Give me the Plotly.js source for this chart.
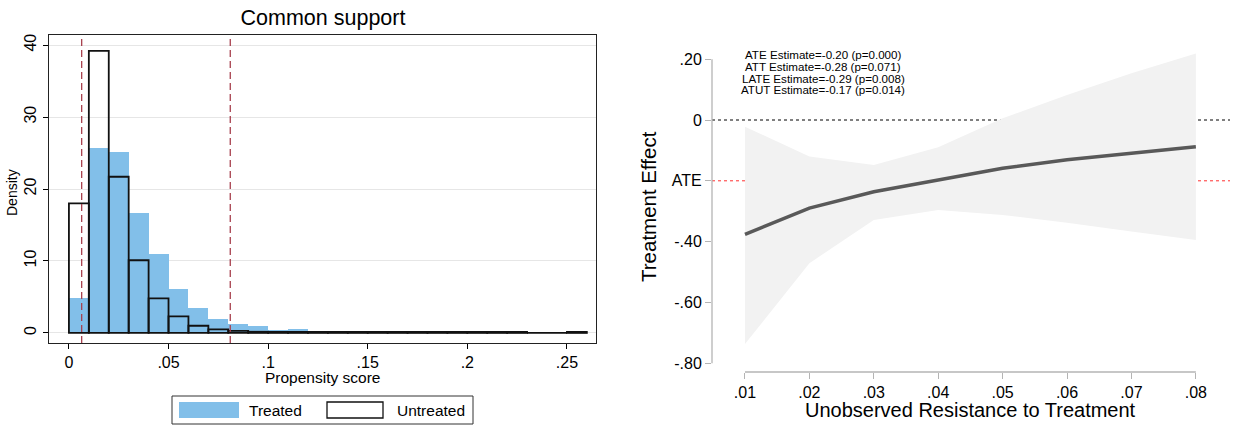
<!DOCTYPE html>
<html>
<head>
<meta charset="utf-8">
<script src="https://cdn.plot.ly/plotly-3.0.1.min.js"></script>
<style>html,body{margin:0;padding:0;background:#fff;}#chart{width:1233px;height:425px;}</style>
</head>
<body>
<div id="chart"></div>
<script>
// ---------- Left panel: propensity score histogram ----------
const binLeft = [0, 0.01, 0.02, 0.03, 0.04, 0.05, 0.06, 0.07, 0.08, 0.09, 0.10, 0.11, 0.12,
                 0.13, 0.14, 0.15, 0.16, 0.17, 0.18, 0.19, 0.20, 0.21, 0.22, 0.23, 0.24, 0.25];
const treatedDensity = [4.9, 25.7, 25.1, 16.7, 11.0, 6.1, 3.4, 2.0, 1.2, 0.95, 0.42, 0.6, 0.3,
                        0.3, 0.14, 0.12, 0.12, 0.12, 0.1, 0.1, 0.1, 0.1, 0.08, 0, 0.12, 0];
const untreatedDensity = [18.0, 39.2, 21.7, 10.1, 4.8, 2.3, 1.0, 0.5, 0.28, 0.16, 0.14, 0.14, 0.14,
                          0.14, 0.14, 0.14, 0.14, 0.14, 0.14, 0.14, 0.14, 0.14, 0.14, 0, 0, 0.14];
const binWidth = 0.01;
const supportBounds = [0.0064, 0.081];
const histXTicks = [0, 0.05, 0.1, 0.15, 0.2, 0.25];
const histXTickText = ['0', '.05', '.1', '.15', '.2', '.25'];
const histYTicks = [0, 10, 20, 30, 40];

// ---------- Right panel: MTE curve ----------
const resistance = [0.01, 0.02, 0.03, 0.04, 0.05, 0.06, 0.07, 0.08];
const effect     = [-0.376, -0.29, -0.236, -0.197, -0.159, -0.131, -0.11, -0.088];
const ciUpper    = [-0.022, -0.12, -0.148, -0.09, 0.006, 0.082, 0.154, 0.219];
const ciLower    = [-0.737, -0.471, -0.329, -0.296, -0.3125, -0.338, -0.367, -0.395];
const ateValue = -0.20;
const mteYTicks = [0.2, 0, -0.2, -0.4, -0.6, -0.8];
const mteYTickText = ['.20', '0', 'ATE', '-.40', '-.60', '-.80'];
const mteXTicks = [0.01, 0.02, 0.03, 0.04, 0.05, 0.06, 0.07, 0.08];
const mteXTickText = ['.01', '.02', '.03', '.04', '.05', '.06', '.07', '.08'];
const estimateLabels = [
  'ATE Estimate=-0.20 (p=0.000)',
  'ATT Estimate=-0.28 (p=0.071)',
  'LATE Estimate=-0.29 (p=0.008)',
  'ATUT Estimate=-0.17 (p=0.014)'
];

const W = 1233, H = 425;
const FONT = 'Liberation Sans, Arial, Helvetica, sans-serif';
const px = x => x / W;
const py = y => 1 - y / H;
const BLUE = '#82bfe9';

const traces = [
  {
    type: 'bar', x: binLeft, y: treatedDensity, width: binWidth, offset: 0,
    marker: {color: BLUE, line: {width: 0}}, xaxis: 'x', yaxis: 'y',
    name: 'Treated', showlegend: false, hoverinfo: 'skip'
  },
  {
    type: 'bar', x: binLeft, y: untreatedDensity, width: binWidth, offset: 0,
    marker: {color: 'rgba(0,0,0,0)', line: {color: '#111', width: 1.8}}, xaxis: 'x', yaxis: 'y',
    name: 'Untreated', showlegend: false, hoverinfo: 'skip'
  },
  {
    type: 'scatter', mode: 'lines', x: resistance, y: ciLower,
    line: {width: 0, color: '#f2f2f2'}, xaxis: 'x2', yaxis: 'y2', showlegend: false, hoverinfo: 'skip'
  },
  {
    type: 'scatter', mode: 'lines', x: resistance, y: ciUpper, fill: 'tonexty',
    fillcolor: '#f2f2f2', line: {width: 0, color: '#f2f2f2'},
    xaxis: 'x2', yaxis: 'y2', showlegend: false, hoverinfo: 'skip'
  },
  {
    type: 'scatter', mode: 'lines', x: resistance, y: effect,
    line: {color: '#595959', width: 3.5}, xaxis: 'x2', yaxis: 'y2', showlegend: false, hoverinfo: 'skip'
  }
];

const shapes = [];
supportBounds.forEach(v => shapes.push({
  type: 'line', xref: 'x', yref: 'y domain', x0: v, x1: v, y0: 0, y1: 1,
  line: {color: '#a8404e', width: 1.3, dash: '7px,4px'}, layer: 'above'
}));
// right panel reference lines (below the band)
shapes.push({type: 'line', xref: 'x2 domain', yref: 'y2', x0: 0, x1: 1, y0: 0, y1: 0,
  line: {color: '#000', width: 1, dash: '3px,3px'}, layer: 'below'});
shapes.push({type: 'line', xref: 'x2 domain', yref: 'y2', x0: 0, x1: 1, y0: ateValue, y1: ateValue,
  line: {color: '#ff3030', width: 1, dash: '3px,3px'}, layer: 'below'});
// right panel axis lines spanning the tick range only
shapes.push({type: 'line', xref: 'x2 domain', yref: 'y2', x0: 0, x1: 0,
  y0: mteYTicks[mteYTicks.length - 1], y1: mteYTicks[0], line: {color: '#b4b4b4', width: 1.3}});
shapes.push({type: 'line', xref: 'x2', yref: 'y2 domain', x0: mteXTicks[0], x1: mteXTicks[mteXTicks.length - 1],
  y0: 0, y1: 0, line: {color: '#b4b4b4', width: 1.3}});
// custom legend for the histogram
shapes.push({type: 'rect', xref: 'paper', yref: 'paper', x0: px(172), x1: px(473), y0: py(424), y1: py(396),
  line: {color: '#333', width: 1}, fillcolor: 'rgba(0,0,0,0)'});
shapes.push({type: 'rect', xref: 'paper', yref: 'paper', x0: px(179), x1: px(239), y0: py(418), y1: py(402),
  line: {width: 0}, fillcolor: BLUE});
shapes.push({type: 'rect', xref: 'paper', yref: 'paper', x0: px(327), x1: px(383), y0: py(418), y1: py(402),
  line: {color: '#111', width: 1.3}, fillcolor: 'rgba(0,0,0,0)'});

const annotations = [
  {text: 'Density', xref: 'paper', yref: 'paper', x: px(12), y: py(193), textangle: -90,
   showarrow: false, font: {size: 14, color: '#000'}, xanchor: 'center', yanchor: 'middle'},
  {text: 'Propensity score', xref: 'paper', yref: 'paper', x: px(322), y: py(377),
   showarrow: false, font: {size: 15.5, color: '#000'}, xanchor: 'center', yanchor: 'middle'},
  {text: 'Treated', xref: 'paper', yref: 'paper', x: px(247), y: py(410),
   showarrow: false, font: {size: 15.5, color: '#000'}, xanchor: 'left', yanchor: 'middle'},
  {text: 'Untreated', xref: 'paper', yref: 'paper', x: px(395), y: py(410),
   showarrow: false, font: {size: 15.5, color: '#000'}, xanchor: 'left', yanchor: 'middle'},
  {text: 'Treatment Effect', xref: 'paper', yref: 'paper', x: px(649), y: py(206), textangle: -90,
   showarrow: false, font: {size: 20.5, color: '#000'}, xanchor: 'center', yanchor: 'middle'},
  {text: 'Unobserved Resistance to Treatment', xref: 'paper', yref: 'paper', x: px(970), y: py(410),
   showarrow: false, font: {size: 20, color: '#000'}, xanchor: 'center', yanchor: 'middle'}
];
const estY = [55, 66.5, 78, 89.5];
estimateLabels.forEach((t, i) => annotations.push({
  text: t, xref: 'paper', yref: 'paper', x: px(823), y: py(estY[i]), showarrow: false,
  font: {size: 11.6, color: '#000'}, xanchor: 'center', yanchor: 'middle'
}));

const layout = {
  width: W, height: H,
  margin: {l: 0, r: 0, t: 0, b: 0, pad: 0},
  paper_bgcolor: '#fff', plot_bgcolor: 'rgba(0,0,0,0)',
  font: {family: FONT, color: '#000'},
  barmode: 'overlay', bargap: 0,
  showlegend: false,
  title: {text: 'Common support', x: px(323), y: py(17), xref: 'paper', yref: 'container',
          xanchor: 'center', yanchor: 'middle', font: {size: 21.5, color: '#000', family: FONT}},
  xaxis: {
    domain: [px(49), px(596)], range: [-0.01, 0.2646], anchor: 'y',
    tickvals: histXTicks, ticktext: histXTickText, ticks: 'outside', ticklen: 5, tickcolor: '#000',
    showline: true, linecolor: '#222', linewidth: 1.2, mirror: true, showgrid: false, zeroline: false,
    tickfont: {size: 16, color: '#000'}
  },
  yaxis: {
    domain: [py(343), py(35)], range: [-1.4, 41.4], anchor: 'x',
    tickvals: histYTicks, ticks: 'outside', ticklen: 5, tickcolor: '#000', tickangle: -90,
    showline: true, linecolor: '#222', linewidth: 1.2, mirror: true,
    showgrid: true, gridcolor: '#e6e6e6', gridwidth: 1, zeroline: false,
    tickfont: {size: 16, color: '#000'}
  },
  xaxis2: {
    domain: [px(712), px(1230)], range: [0.00488, 0.0853], anchor: 'y2',
    tickvals: mteXTicks, ticktext: mteXTickText, ticks: 'outside', ticklen: 6, tickcolor: '#b4b4b4',
    showline: false, showgrid: false, zeroline: false, tickfont: {size: 16, color: '#000'}
  },
  yaxis2: {
    domain: [py(372), py(51)], range: [-0.829, 0.227], anchor: 'x2',
    tickvals: mteYTicks, ticktext: mteYTickText, ticks: 'outside', ticklen: 6, tickcolor: '#b4b4b4',
    showline: false, showgrid: false, zeroline: false, tickfont: {size: 16, color: '#000'}
  },
  shapes: shapes,
  annotations: annotations
};

Plotly.newPlot('chart', traces, layout, {staticPlot: true, displayModeBar: false});
</script>
</body>
</html>
